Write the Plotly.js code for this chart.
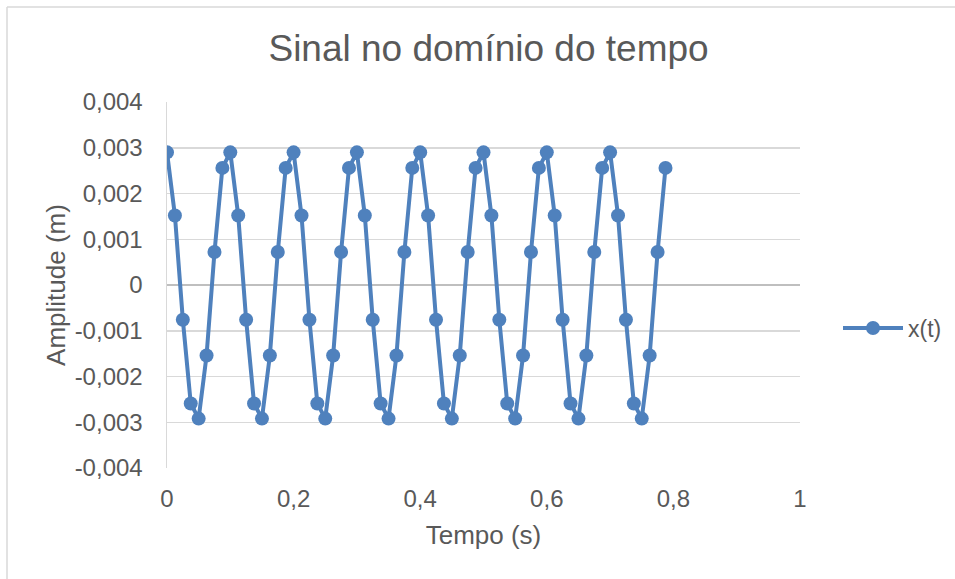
<!DOCTYPE html>
<html>
<head>
<meta charset="utf-8">
<script src="https://cdn.plot.ly/plotly-3.0.1.min.js"></script>
<style>
html,body{margin:0;padding:0;background:#fff;}
#chart{width:955px;height:579px;}
</style>
</head>
<body>
<div id="chart"></div>
<script>
// Data
var tempo = [
  0, 0.0125, 0.025, 0.0375, 0.05, 0.0625, 0.075, 0.0875,
  0.1, 0.1125, 0.125, 0.1375, 0.15, 0.1625, 0.175, 0.1875,
  0.2, 0.2125, 0.225, 0.2375, 0.25, 0.2625, 0.275, 0.2875,
  0.3, 0.3125, 0.325, 0.3375, 0.35, 0.3625, 0.375, 0.3875,
  0.4, 0.4125, 0.425, 0.4375, 0.45, 0.4625, 0.475, 0.4875,
  0.5, 0.5125, 0.525, 0.5375, 0.55, 0.5625, 0.575, 0.5875,
  0.6, 0.6125, 0.625, 0.6375, 0.65, 0.6625, 0.675, 0.6875,
  0.7, 0.7125, 0.725, 0.7375, 0.75, 0.7625, 0.775, 0.7875
];
var amplitude = [
  0.00290, 0.00152, -0.00076, -0.00259, -0.00292, -0.00154, 0.00072, 0.00256,
  0.00290, 0.00152, -0.00076, -0.00259, -0.00292, -0.00154, 0.00072, 0.00256,
  0.00290, 0.00152, -0.00076, -0.00259, -0.00292, -0.00154, 0.00072, 0.00256,
  0.00290, 0.00152, -0.00076, -0.00259, -0.00292, -0.00154, 0.00072, 0.00256,
  0.00290, 0.00152, -0.00076, -0.00259, -0.00292, -0.00154, 0.00072, 0.00256,
  0.00290, 0.00152, -0.00076, -0.00259, -0.00292, -0.00154, 0.00072, 0.00256,
  0.00290, 0.00152, -0.00076, -0.00259, -0.00292, -0.00154, 0.00072, 0.00256,
  0.00290, 0.00152, -0.00076, -0.00259, -0.00292, -0.00154, 0.00072, 0.00256
];
var seriesName = 'x(t)';
var xTickVals = [0, 0.2, 0.4, 0.6, 0.8, 1];
var xTickText = ['0', '0,2', '0,4', '0,6', '0,8', '1'];
var yTickVals = [0.004, 0.003, 0.002, 0.001, 0, -0.001, -0.002, -0.003, -0.004];
var yTickText = ['0,004', '0,003', '0,002', '0,001', '0', '-0,001', '-0,002', '-0,003', '-0,004'];

var FONT = '"Liberation Sans", Arial, sans-serif';
var TXT = '#595959';
var BLUE = '#4f81bd';

var trace = {
  x: tempo,
  y: amplitude,
  name: seriesName,
  type: 'scatter',
  mode: 'lines+markers',
  line: {color: BLUE, width: 4},
  marker: {color: BLUE, size: 14},
  hoverinfo: 'none',
  showlegend: true
};

var layout = {
  width: 955,
  height: 579,
  margin: {l: 167, r: 155, t: 102, b: 111, pad: 0, autoexpand: false},
  paper_bgcolor: '#ffffff',
  plot_bgcolor: '#ffffff',
  font: {family: FONT, color: TXT, size: 24},
  title: {
    text: 'Sinal no domínio do tempo',
    font: {family: FONT, size: 37, color: TXT},
    x: 0.508, xref: 'paper', xanchor: 'center',
    y: 1 - 48/579, yref: 'container', yanchor: 'middle'
  },
  xaxis: {
    range: [0, 1],
    tickvals: xTickVals,
    ticktext: xTickText,
    showgrid: false,
    zeroline: false,
    showline: false,
    ticks: '',
    ticklabelstandoff: 14,
    tickfont: {family: FONT, size: 24, color: TXT},
    title: {text: 'Tempo (s)', font: {family: FONT, size: 26, color: TXT}, standoff: 14},
    fixedrange: true
  },
  yaxis: {
    range: [-0.004, 0.004],
    tickvals: yTickVals,
    ticktext: yTickText,
    showgrid: true,
    gridcolor: '#d9d9d9',
    gridwidth: 1.5,
    zeroline: true,
    zerolinecolor: '#bfbfbf',
    zerolinewidth: 1.5,
    showline: true,
    linecolor: '#d9d9d9',
    linewidth: 1.5,
    ticks: '',
    ticklabelstandoff: 18,
    tickfont: {family: FONT, size: 24, color: TXT},
    title: {text: 'Amplitude (m)', font: {family: FONT, size: 26, color: TXT}, standoff: 1},
    fixedrange: true
  },
  legend: {
    xref: 'container', x: 838/955, xanchor: 'left',
    yref: 'container', y: 1 - 328/579, yanchor: 'middle',
    font: {family: FONT, size: 23, color: TXT},
    bgcolor: 'rgba(0,0,0,0)',
    itemwidth: 60
  },
  shapes: [
    {type: 'line', xref: 'paper', yref: 'paper',
     x0: (7-167)/633, x1: (7-167)/633, y0: (468-7)/366, y1: (468-700)/366,
     line: {color: '#d9d9d9', width: 1.5}},
    {type: 'line', xref: 'paper', yref: 'paper',
     x0: (7-167)/633, x1: (1100-167)/633, y0: (468-7)/366, y1: (468-7)/366,
     line: {color: '#d9d9d9', width: 1.5}}
  ],
  showlegend: true
};

Plotly.newPlot('chart', [trace], layout, {displayModeBar: false, staticPlot: true});
</script>
</body>
</html>
